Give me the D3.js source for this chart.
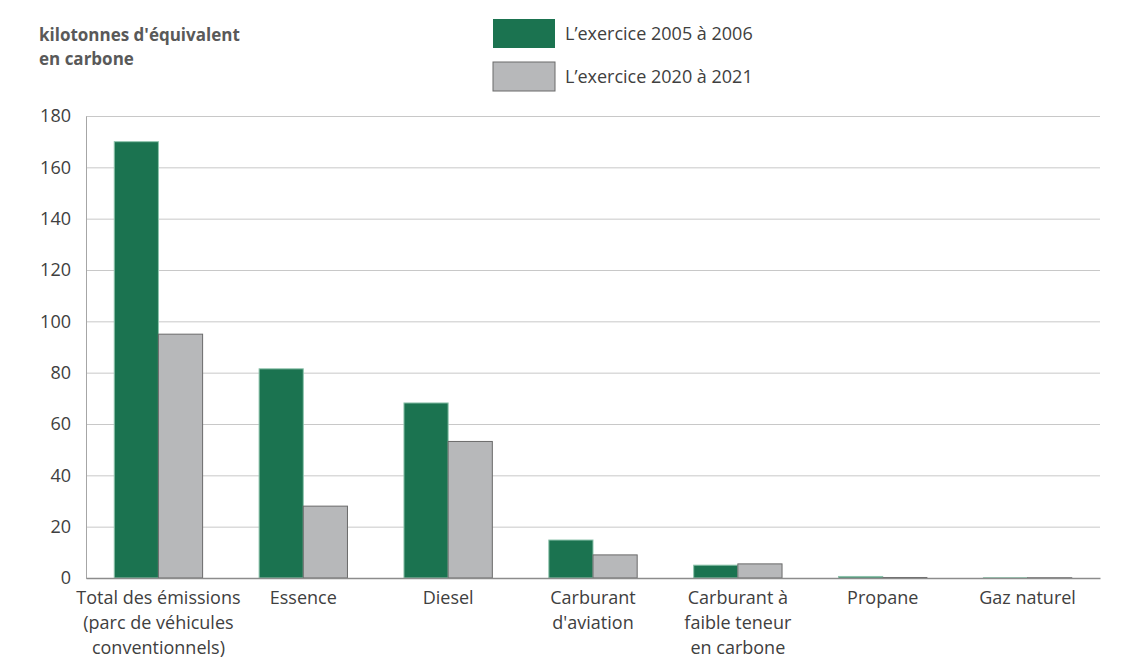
<!DOCTYPE html>
<html>
<head>
<meta charset="utf-8">
<script src="https://cdn.jsdelivr.net/npm/d3@7"></script>
<style>
  body { margin: 0; background: #fff; }
  svg { font-family: "Open Sans", "Noto Sans", sans-serif; }
  .tick text { fill: #404040; font-size: 18px; font-family: "Open Sans", "Noto Sans", sans-serif; }
</style>
</head>
<body>
<svg id="svg" width="1140" height="668"></svg>
<script>
var svg = d3.select("#svg");

var categories = [
  ["Total des émissions", "(parc de véhicules", "conventionnels)"],
  ["Essence"],
  ["Diesel"],
  ["Carburant", "d'aviation"],
  ["Carburant à", "faible teneur", "en carbone"],
  ["Propane"],
  ["Gaz naturel"]
];
var series2005 = [170, 81.5, 68.2, 14.8, 5, 0.6, 0.1];
var series2020 = [95, 28, 53.2, 9, 5.5, 0.2, 0.1];
var seriesNames = ["L\u2019exercice 2005 à 2006", "L\u2019exercice 2020 à 2021"];
var yTicks = [0, 20, 40, 60, 80, 100, 120, 140, 160, 180];

var padding = {top: 116, right: 40, bottom: 90, left: 86};
var chartArea = {
  width: 1140 - padding.left - padding.right,
  height: 668 - padding.top - padding.bottom
};

var colors = ["#1b7350", "#b7b8ba"];
var strokes = ["#8fc4ad", "#6a6a6a"];

var yScale = d3.scaleLinear().domain([0, 180]).range([chartArea.height, 0]);

var xScale = d3.scaleBand()
  .domain(d3.range(categories.length))
  .range([0, chartArea.width])
  .paddingInner(0.39)
  .paddingOuter(0.195);

var xSub = d3.scaleBand().domain([0, 1]).range([0, xScale.bandwidth()]);

var g = svg.append("g").attr("transform", "translate(" + padding.left + "," + padding.top + ")");

// grid
g.append("g")
  .attr("class", "grid")
  .call(d3.axisLeft(yScale).tickValues(yTicks).tickSize(-chartArea.width).tickFormat(""))
  .call(function(s) {
    s.select(".domain").remove();
    s.selectAll("line").attr("stroke", "#c8c8c8").attr("stroke-width", 1);
  });

// y axis labels
g.append("g")
  .call(d3.axisLeft(yScale).tickValues(yTicks).tickSize(0).tickPadding(15))
  .call(function(s) {
    s.attr("font-family", null).attr("font-size", null);
    s.select(".domain").attr("stroke", "#a6a6a6");
  });

// bars
var data = categories.map(function(c, i) { return [series2005[i], series2020[i]]; });
var grp = g.selectAll(".cat").data(data).enter().append("g")
  .attr("transform", function(d, i) { return "translate(" + xScale(i) + ",0)"; });

grp.selectAll("rect").data(function(d) { return d; }).enter().append("rect")
  .attr("x", function(d, j) { return xSub(j); })
  .attr("y", function(d) { return yScale(d); })
  .attr("width", xSub.bandwidth())
  .attr("height", function(d) { return chartArea.height - yScale(d); })
  .attr("fill", function(d, j) { return colors[j]; })
  .attr("stroke", function(d, j) { return strokes[j]; })
  .attr("stroke-width", 1);

// x axis
var xAxis = g.append("g")
  .attr("transform", "translate(0," + chartArea.height + ")")
  .call(d3.axisBottom(xScale).tickSize(0).tickFormat(""));
xAxis.attr("font-family", null).attr("font-size", null);
xAxis.select(".domain").attr("stroke", "#8c8c8c").attr("stroke-width", 1.5);

xAxis.selectAll(".tick").each(function(i) {
  var t = d3.select(this).select("text").text(null)
    .attr("y", 0).attr("dy", null);
  categories[i].forEach(function(line, k) {
    t.append("tspan").attr("x", 0).attr("y", 26 + k * 25).text(line);
  });
});

// y title
svg.append("text")
  .attr("x", 39).attr("y", 41)
  .attr("fill", "#595959").attr("font-size", 17).attr("font-weight", "bold")
  .selectAll("tspan").data(["kilotonnes d'équivalent", "en carbone"]).enter()
  .append("tspan").attr("x", 39).attr("dy", function(d, i) { return i ? 24 : 0; })
  .text(function(d) { return d; });

// legend
var legend = svg.append("g").attr("transform", "translate(493,19)");
var li = legend.selectAll("g").data(seriesNames).enter().append("g")
  .attr("transform", function(d, i) { return "translate(0," + i * 43 + ")"; });
li.append("rect").attr("width", 62).attr("height", 29)
  .attr("fill", function(d, i) { return colors[i]; })
  .attr("stroke", function(d, i) { return i ? "#6a6a6a" : "none"; });
li.append("text").attr("x", 72).attr("y", 21)
  .attr("fill", "#404040").attr("font-size", 18)
  .text(function(d) { return d; });
</script>
</body>
</html>
